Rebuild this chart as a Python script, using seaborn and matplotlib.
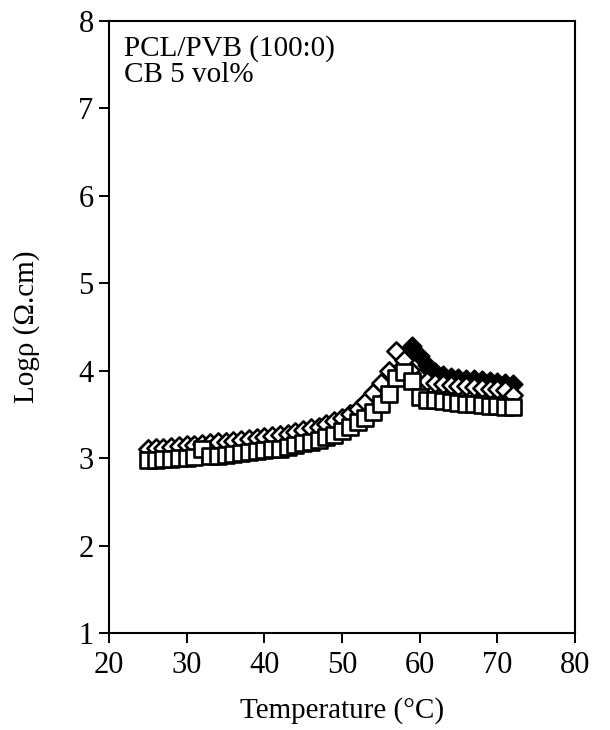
import matplotlib
matplotlib.use("Agg")
import matplotlib.pyplot as plt
import seaborn as sns

# Temperature (°C), readings roughly every degree
temps = list(range(25, 73))

# Log resistivity, filled diamonds (drawn underneath)
log_filled = [3.10, 3.11, 3.11, 3.12, 3.13, 3.14, 3.14, 3.15, 3.16, 3.17,
              3.18, 3.19, 3.20, 3.21, 3.22, 3.23, 3.24, 3.26, 3.27, 3.29,
              3.31, 3.33, 3.35, 3.38, 3.41, 3.45, 3.50, 3.55, 3.62, 3.70,
              3.78, 3.86, 3.97, 4.13, 4.28, 4.17, 4.06, 3.99, 3.95, 3.93,
              3.92, 3.91, 3.90, 3.89, 3.88, 3.87, 3.86, 3.85]

# Log resistivity, open diamonds
log_open_d = [3.11, 3.12, 3.12, 3.13, 3.14, 3.15, 3.15, 3.16, 3.17, 3.18,
              3.19, 3.20, 3.21, 3.22, 3.23, 3.24, 3.25, 3.27, 3.28, 3.30,
              3.32, 3.34, 3.36, 3.39, 3.42, 3.46, 3.51, 3.56, 3.64, 3.74,
              3.86, 4.00, 4.23, 4.12, 3.98, 3.92, 3.88, 3.86, 3.85, 3.84,
              3.83, 3.82, 3.81, 3.80, 3.79, 3.79, 3.78, 3.72]

# Log resistivity, open squares
log_square = [2.98, 2.98, 2.99, 2.99, 3.00, 3.00, 3.01, 3.10, 3.02, 3.03,
              3.04, 3.05, 3.06, 3.07, 3.08, 3.09, 3.10, 3.11, 3.13, 3.15,
              3.17, 3.19, 3.21, 3.24, 3.27, 3.31, 3.36, 3.41, 3.46, 3.53,
              3.62, 3.73, 3.92, 3.99, 3.88, 3.70, 3.67, 3.66, 3.65, 3.64,
              3.63, 3.62, 3.62, 3.61, 3.60, 3.60, 3.59, 3.58]

sns.set_style("ticks")
plt.rcParams["font.family"] = ["Liberation Serif", "DejaVu Serif"]
plt.rcParams["text.color"] = "black"
plt.rcParams["axes.labelcolor"] = "black"
plt.rcParams["xtick.color"] = "black"
plt.rcParams["ytick.color"] = "black"

fig = plt.figure(figsize=(6.1, 7.3), dpi=100)
ax = fig.add_axes([0.1787, 0.1329, 0.7639, 0.8383])

sns.scatterplot(x=temps, y=log_filled, marker="D", s=85, color="black",
                edgecolor="black", linewidth=1.5, ax=ax, zorder=2)
sns.scatterplot(x=temps, y=log_open_d, marker="D", s=85, color="white",
                edgecolor="black", linewidth=1.9, ax=ax, zorder=3)
sns.scatterplot(x=temps, y=log_square, marker="s", s=125, color="white",
                edgecolor="black", linewidth=1.9, ax=ax, zorder=4)

ax.set_xlim(20, 80)
ax.set_ylim(1, 8)
ax.set_xticks(range(20, 81, 10))
ax.set_yticks(range(1, 9))
ax.tick_params(direction="out", length=7, width=1.4, labelsize=22, pad=4,
               top=False, right=False)
ax.tick_params(axis="x", pad=6)
for side in ax.spines.values():
    side.set_visible(True)
    side.set_linewidth(1.5)
    side.set_color("black")

ax.set_xlabel("Temperature (°C)", fontsize=21, labelpad=12)
ax.set_ylabel("Logρ (Ω.cm)", fontsize=21, labelpad=28)

ax.text(0.032, 0.977, "PCL/PVB (100:0)\nCB 5 vol%", transform=ax.transAxes,
        ha="left", va="top", fontsize=21, linespacing=1.0)

fig.savefig("out.png", dpi=100, facecolor="white")
